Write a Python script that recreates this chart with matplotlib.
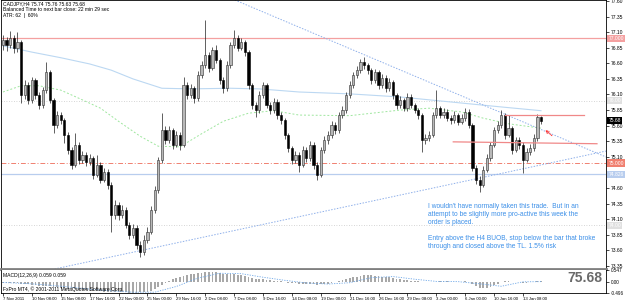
import matplotlib
matplotlib.use("Agg")
import matplotlib.pyplot as plt
import matplotlib.transforms as mtransforms
import numpy as np

plt.rcParams['font.family'] = ['Liberation Sans', 'DejaVu Sans']

# CADJPY H4 candles
first_open = 76.90
closes = [
    76.97, 76.89, 77.01, 76.85, 76.94, 76.09, 76.25, 76.01, 76.33, 76.09,
    75.93, 76.17, 76.46, 76.01, 75.61, 75.77, 75.69, 75.45, 75.21, 74.97,
    75.29, 75.05, 75.13, 75.02, 75.08, 74.81, 74.97, 74.73, 74.86, 74.65,
    74.17, 74.33, 74.17, 74.25, 74.01, 73.85, 73.96, 73.69, 73.57, 73.77,
    73.90, 74.25, 74.57, 75.05, 75.53, 75.37, 75.53, 75.29, 75.45, 75.29,
    76.25, 76.09, 76.20, 76.04, 76.41, 76.57, 76.73, 76.53, 76.81, 76.65,
    76.33, 76.20, 76.57, 76.89, 77.01, 76.85, 76.94, 76.78, 76.25, 75.93,
    75.85, 76.09, 76.25, 75.93, 75.85, 75.98, 75.77, 75.69, 75.45, 75.24,
    75.05, 75.13, 74.97, 75.21, 75.08, 75.29, 74.97, 74.81, 75.21, 75.37,
    75.45, 75.61, 75.53, 75.77, 75.85, 76.09, 76.25, 76.41, 76.49, 76.62,
    76.57, 76.49, 76.33, 76.46, 76.25, 76.37, 76.20, 76.30, 76.09, 75.93,
    76.01, 75.88, 76.06, 75.93, 75.85, 75.77, 75.37, 75.40, 75.45, 75.77,
    75.88, 75.77, 75.82, 75.72, 75.69, 75.77, 75.66, 75.72, 75.82, 75.61,
    74.92, 74.73, 74.65, 74.89, 75.08, 75.29, 75.53, 75.61, 75.77, 75.45,
    75.56, 75.21, 75.37, 75.29, 75.05, 75.18, 75.24, 75.40, 75.74, 75.68,
]
highs = [
    77.05, 77.02, 77.12, 77.06, 77.11, 76.98, 76.34, 76.30, 76.38, 76.36,
    76.14, 76.22, 76.62, 76.50, 76.05, 75.84, 75.82, 75.73, 75.50, 75.25,
    75.48, 75.33, 75.20, 75.17, 75.14, 75.11, 75.13, 75.01, 74.92, 74.90,
    74.69, 74.40, 74.37, 74.33, 74.29, 74.06, 74.03, 74.00, 73.75, 73.84,
    73.98, 74.31, 74.63, 75.10, 75.80, 75.60, 75.60, 75.57, 75.52, 75.50,
    76.38, 76.30, 76.27, 76.24, 76.47, 76.64, 77.30, 76.78, 76.86, 76.89,
    76.69, 76.38, 76.63, 76.95, 77.14, 77.06, 77.01, 76.98, 76.82, 76.29,
    75.98, 76.15, 76.30, 76.29, 75.98, 76.05, 76.02, 75.82, 75.73, 75.49,
    75.28, 75.19, 75.17, 75.27, 75.25, 75.35, 75.33, 75.01, 75.26, 75.43,
    75.51, 75.67, 75.66, 75.82, 75.92, 76.14, 76.31, 76.46, 76.55, 76.67,
    76.70, 76.61, 76.53, 76.51, 76.49, 76.43, 76.41, 76.36, 76.34, 76.13,
    76.07, 76.05, 76.12, 76.10, 75.97, 75.89, 75.81, 75.46, 75.51, 75.82,
    76.17, 75.92, 75.88, 75.86, 75.77, 75.83, 75.81, 75.78, 75.88, 75.86,
    75.65, 74.97, 74.79, 74.95, 75.14, 75.34, 75.58, 75.67, 75.85, 75.80,
    75.77, 75.60, 75.42, 75.41, 75.33, 75.24, 75.30, 75.46, 75.78, 75.76,
]
lows = [
    76.82, 76.80, 76.84, 76.76, 76.78, 75.96, 76.02, 75.94, 75.97, 76.03,
    75.86, 75.89, 76.12, 75.96, 75.48, 75.56, 75.62, 75.32, 75.14, 74.90,
    74.93, 74.99, 75.00, 74.95, 74.97, 74.74, 74.77, 74.68, 74.69, 74.58,
    73.90, 74.10, 74.09, 74.12, 73.95, 73.78, 73.80, 73.62, 73.49, 73.53,
    73.72, 73.86, 74.20, 74.52, 75.00, 75.30, 75.32, 75.22, 75.25, 75.21,
    75.26, 76.02, 76.04, 75.97, 76.00, 76.36, 76.52, 76.46, 76.49, 76.60,
    76.27, 76.12, 76.16, 76.52, 76.85, 76.79, 76.81, 76.72, 76.19, 75.87,
    75.74, 75.81, 76.04, 75.88, 75.79, 75.81, 75.71, 75.62, 75.38, 75.18,
    74.98, 75.00, 74.86, 74.93, 75.02, 75.04, 74.91, 74.73, 74.77, 75.16,
    75.31, 75.40, 75.47, 75.49, 75.72, 75.80, 76.04, 76.20, 76.36, 76.44,
    76.51, 76.43, 76.27, 76.29, 76.19, 76.21, 76.14, 76.16, 76.03, 75.87,
    75.89, 75.83, 75.84, 75.88, 75.80, 75.71, 75.18, 75.31, 75.35, 75.41,
    75.73, 75.72, 75.73, 75.67, 75.63, 75.65, 75.61, 75.62, 75.68, 75.56,
    74.87, 74.66, 74.54, 74.61, 74.85, 75.03, 75.25, 75.48, 75.57, 75.39,
    75.41, 75.15, 75.17, 75.23, 74.84, 75.01, 75.13, 75.20, 75.36, 75.63,
]

# MACD(12,26,9) main values per bar
macd = [
    -0.03, -0.04, -0.03, -0.05, -0.05, -0.08, -0.09, -0.11,
    -0.12, -0.14, -0.16, -0.17, -0.16, -0.18, -0.21, -0.23, -0.25,
    -0.27, -0.30, -0.33, -0.33, -0.35, -0.36, -0.37, -0.39, -0.40, -0.41, -0.42, -0.43, -0.44, -0.46,
    -0.46, -0.47, -0.47, -0.47, -0.48, -0.48, -0.48, -0.47, -0.46, -0.44, -0.40,
    -0.33, -0.24, -0.12, -0.02, 0.06, 0.12, 0.17,
    0.21, 0.29, 0.33, 0.36, 0.38, 0.41, 0.43, 0.45,
    0.45, 0.46, 0.45, 0.42, 0.38, 0.37, 0.36, 0.35, 0.33, 0.31,
    0.28, 0.24, 0.19, 0.15,
    0.13, 0.12, 0.10, 0.08, 0.07, 0.05, 0.03, 0.00, -0.03, -0.05, -0.06, -0.08,
    -0.08, -0.09, -0.09, -0.10, -0.12, -0.11, -0.09, -0.07, -0.04,
    0.00, 0.04, 0.08, 0.13, 0.17, 0.21, 0.25, 0.28,
    0.30, 0.31, 0.30, 0.29, 0.27,
    0.25, 0.23, 0.21, 0.18, 0.15, 0.12, 0.10, 0.09, 0.07,
    0.06, 0.05, 0.02, 0.00, -0.01, 0.00, 0.02, 0.03, 0.03, 0.03, 0.02, 0.02, 0.02, 0.02, 0.03,
    -0.01, -0.10, -0.19, -0.26, -0.29, -0.27,
    -0.21, -0.14, -0.07, 0.00, 0.03,
    0.04, 0.02, 0.01, 0.01, -0.02, -0.02, -0.01, 0.01, 0.04, 0.06,
]
signal_idx = [0, 6, 12, 18, 24, 30, 36, 42, 48, 54, 60, 66, 72, 78, 84, 90,
              96, 102, 108, 114, 120, 126, 132, 138, 144, 149]
signal_vals = [-0.02, -0.06, -0.13, -0.22, -0.32, -0.40, -0.46, -0.46, -0.20, 0.18,
               0.40, 0.38, 0.22, 0.08, -0.04, -0.09, -0.03, 0.20, 0.25, 0.13,
               0.03, 0.02, -0.08, -0.19, 0.01, 0.02]

# moving averages
ma_blue_idx = [0, 8, 16, 24, 30, 36, 44, 52, 63, 71, 82, 96, 110, 124, 138, 149]
ma_blue = [76.88, 76.78, 76.69, 76.59, 76.49, 76.35, 76.20, 76.19, 76.20, 76.19,
           76.14, 76.11, 76.06, 75.98, 75.90, 75.84]
ma_green_idx = [0, 5, 10, 16, 21, 27, 32, 38, 43, 49, 55, 61, 68, 75, 82, 96,
                110, 118, 127, 133, 140, 149]
ma_green = [76.14, 76.24, 76.24, 76.17, 76.04, 75.88, 75.67, 75.43, 75.27, 75.26,
            75.47, 75.67, 75.80, 75.84, 75.77, 75.76, 75.85, 75.88, 75.82, 75.72,
            75.63, 75.56]

# drawn objects
trend_down = [(76.7, 77.31), (157.1, 75.34)]
trend_up = [(29.6, 73.49), (157.1, 75.07)]
red_upper = ([139, 161], [75.77, 75.77])
red_lower = ([124.7, 164.5], [75.34, 75.31])

date_idx = list(range(0, 145, 8))
date_labels = ["7 Nov 2011", "10 Nov 08:00", "15 Nov 08:00", "17 Nov 16:00",
               "22 Nov 00:00", "25 Nov 00:00", "29 Nov 16:00", "2 Dec 08:00",
               "7 Dec 08:00", "9 Dec 16:00", "14 Dec 08:00", "19 Dec 00:00",
               "21 Dec 16:00", "26 Dec 16:00", "29 Dec 08:00", "3 Jan 00:00",
               "6 Jan 00:00", "10 Jan 16:00", "13 Jan 08:00"]
price_ticks = [77.60, 77.35, 77.10, 76.85, 76.60, 76.35, 76.10, 75.85, 75.60,
               75.35, 75.10, 74.60, 74.35, 74.10, 73.85, 73.60, 73.35]

c = np.array(closes)
h = np.array(highs)
l = np.array(lows)
o = np.r_[first_open, c[:-1]]
x = np.arange(len(c))

fig = plt.figure(figsize=(6.25, 3.01), dpi=100)
W, H = 625, 301
ax = fig.add_axes([1 / W, 1 - 269 / H, 605 / W, 269 / H])
axm = fig.add_axes([1 / W, 1 - 293 / H, 605 / W, 23 / H], sharex=ax)

ax.set_xlim(-0.55, 167.0)
ax.set_ylim(73.30, 77.616)

# horizontal levels
ax.axhline(77.00, color='#f4a0a0', lw=0.9, zorder=1)
ax.axhline(75.00, color='#f08070', lw=0.7, ls=(0, (5, 2, 1, 2)), zorder=1)
ax.axhline(74.82, color='#b8cdee', lw=0.9, zorder=1)
ax.axhline(76.00, color='#c8c8c8', lw=0.6, ls=(0, (1, 2)), zorder=1)
ax.axhline(74.00, color='#c8c8c8', lw=0.6, ls=(0, (1, 2)), zorder=1)

ax.plot(ma_blue_idx, ma_blue, color='#bcd8f2', lw=0.8, zorder=1)
ax.plot(ma_green_idx, ma_green, color='#9ee69e', lw=0.7, ls=(0, (2, 2)), zorder=1)

ax.axline(*trend_down, color='#8fb0ea', lw=0.7, ls=(0, (1.5, 1.5)), zorder=1)
ax.axline(*trend_up, color='#8fb0ea', lw=0.7, ls=(0, (1.5, 1.5)), zorder=1)

# candles
up = c >= o
bottom = np.minimum(o, c)
height = np.maximum(np.abs(c - o), 0.012)
ax.vlines(x, l, h, color='#202020', lw=0.5, zorder=2)
ax.bar(x[up], height[up], bottom=bottom[up], width=0.62, color='#b8b8b8',
       edgecolor='#303030', linewidth=0.4, zorder=3)
ax.bar(x[~up], height[~up], bottom=bottom[~up], width=0.62, color='black',
       edgecolor='black', linewidth=0.4, zorder=3)

ax.plot(*red_upper, color='#f08888', lw=0.9, zorder=4)
ax.plot(*red_lower, color='#f08888', lw=0.9, zorder=4)
ax.annotate('', xy=(149.6, 75.56), xytext=(152.6, 75.41),
            arrowprops=dict(arrowstyle='->', color='#ff3030', lw=0.7,
                            linestyle=(0, (1, 1)), mutation_scale=5))

ax.yaxis.tick_right()
ax.set_yticks(price_ticks)
ax.set_yticklabels([f"{p:.2f}" for p in price_ticks])
ax.tick_params(axis='y', labelsize=3.6, length=2, width=0.5, pad=1.5)
ax.tick_params(axis='x', bottom=False, labelbottom=False)
for s in ax.spines.values():
    s.set_linewidth(0.6)
ax.spines['bottom'].set_linewidth(2.0)
ax.spines['bottom'].set_color('#808080')

# coloured price labels on the scale
tr = mtransforms.blended_transform_factory(ax.transAxes, ax.transData)
for val, txt, fc, tc in [(77.00, "77.000", '#f4a0a0', 'white'),
                         (75.00, "75.000", '#f08070', 'white'),
                         (74.82, "74.826", '#b8cdee', 'white'),
                         (76.00, "76.00", '#e0e0e0', 'white'),
                         (74.00, "74.00", '#e0e0e0', 'white'),
                         (75.68, "75.68", 'black', 'white')]:
    ax.text(1.004, val, txt, transform=tr, fontsize=3.6, color=tc, va='center',
            ha='left', clip_on=False, zorder=6,
            bbox=dict(boxstyle='square,pad=0.25', fc=fc, ec='none'))

# MACD panel
axm.bar(x, macd, width=0.5, color='#a8a8a8', linewidth=0)
axm.plot(signal_idx, signal_vals, color='#6fa8e8', lw=0.6, ls=(0, (1.5, 1.5)))
axm.set_ylim(-0.496, 0.547)
axm.yaxis.tick_right()
axm.set_yticks([0.547, 0.0, -0.496])
axm.set_yticklabels(["0.547", "0.00", "-0.496"])
axm.tick_params(axis='y', labelsize=3.3, length=2, width=0.5, pad=1.5)
axm.set_xticks(date_idx)
axm.set_xticklabels(date_labels, ha='left')
axm.tick_params(axis='x', labelsize=3.1, length=2, width=0.5, pad=1.0)
for s in axm.spines.values():
    s.set_linewidth(0.6)
axm.spines['top'].set_visible(False)

# texts
fig.text(3 / W, 1 - 3.5 / H, "CADJPY,H4 75.74 75.76 75.63 75.68", fontsize=3.6, va='center')
fig.text(3 / W, 1 - 9.3 / H, "Balanced Time to next bar close: 22 min 29 sec", fontsize=3.6, va='center')
fig.text(3 / W, 1 - 15 / H, "ATR: 62  |  60%", fontsize=3.6, va='center')
fig.text(3 / W, 1 - 275 / H, "MACD(12,26,9) 0.059 0.059", fontsize=3.6, va='center')
fig.text(3 / W, 1 - 289 / H, "FxPro MT4, \u00a9 2001-2011 MetaQuotes Software Corp.", fontsize=3.6, va='center')
fig.text(585 / W, 1 - 278.5 / H, "75.68", fontsize=10, fontweight='bold', color='#6a6a6a',
         ha='center', va='center')

note_lines = [(206, "I wouldn't have normally taken this trade.  But in an"),
              (214, "attempt to be slightly more pro-active this week the"),
              (222, "order is placed."),
              (239, "Entry above the H4 BUOB, stop below the bar that broke"),
              (247, "through and closed above the TL. 1.5% risk")]
for yy, txt in note_lines:
    fig.text(428 / W, 1 - yy / H, txt, fontsize=4.8, color='#3b8fe8', va='center')

plt.savefig("out.png", dpi=100)
